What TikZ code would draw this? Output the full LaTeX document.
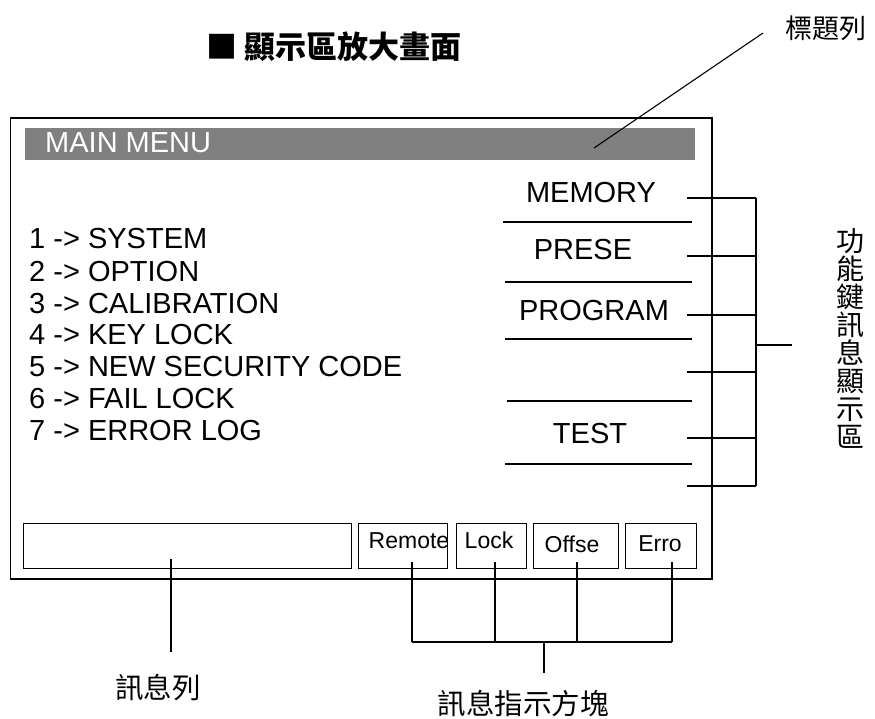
\documentclass[tikz,border=0pt]{standalone}
\usepackage{fontspec}
\setmainfont{Liberation Sans}
\newfontfamily\cjk{Noto Sans CJK TC}
\definecolor{bargray}{HTML}{808080}
\begin{document}
\begin{tikzpicture}[x=1pt,y=-1pt,
  menu/.style={anchor=base west, inner sep=0, font=\fontsize{29}{32}\selectfont},
  fk/.style={anchor=base, inner sep=0, font=\fontsize{29}{32}\selectfont},
  ind/.style={anchor=base, inner sep=0, font=\fontsize{23}{26}\selectfont},
  boxn/.style={draw, line width=1.4pt, inner sep=0, anchor=north west, minimum height=45pt},
  conn/.style={line width=1.1pt},
  sep/.style={line width=1.3pt},
  cjklab/.style={inner sep=0, font=\cjk\fontsize{28.5}{29}\selectfont}
]
\useasboundingbox (0,0) rectangle (875,719);

% title
\node[anchor=west, inner sep=0, font=\cjk\bfseries\fontsize{31}{31}\selectfont] (title) at (206,47) {■ 顯示區放大畫面};

% frame
\node[draw, line width=1.8pt, inner sep=0, anchor=north west, minimum width=701.5pt, minimum height=461pt] (frame) at (9.5,117) {};

% title bar
\node[fill=bargray, inner sep=0, anchor=north west, minimum width=670pt, minimum height=32pt] (bar) at (25,128) {};
\node[menu, text=white] (mainmenu) at (45,153) {MAIN MENU};

% menu items
\node[menu] (m1) at (29,249) {1 -> SYSTEM};
\node[menu] (m2) at (29,281) {2 -> OPTION};
\node[menu] (m3) at (29,313) {3 -> CALIBRATION};
\node[menu] (m4) at (29,344) {4 -> KEY LOCK};
\node[menu] (m5) at (29,376) {5 -> NEW SECURITY CODE};
\node[menu] (m6) at (29,408) {6 -> FAIL LOCK};
\node[menu] (m7) at (29,440) {7 -> ERROR LOG};

% function keys
\node[fk] (fmem) at (591,203) {MEMORY};
\node[fk] (fpre) at (583,260) {PRESE};
\node[fk] (fprog) at (594,320) {PROGRAM};
\node[fk] (ftest) at (590,443) {TEST};
\foreach \y/\xa in {222/503,282/505,339/505,401/507,464/505}
  \draw[sep] (\xa,\y) -- (692,\y);

% bracket for function keys
\coordinate (bt) at (756,198);
\coordinate (bb) at (756,486);
\coordinate (bm) at (756,345);
\coordinate (bo) at (792,345);
\foreach \y in {198,256,315,372,438,486}
  \draw[conn] (687,\y) -- (756,\y);
\draw[conn] (bt) -- (bb);
\draw[conn] (bm) -- (bo);
\node[inner sep=0, align=center, font=\cjk\fontsize{28}{28}\selectfont] (fklabel) at (850,338) {功\\能\\鍵\\訊\\息\\顯\\示\\區};

% title label
\node[inner sep=0, font=\cjk\fontsize{27}{27}\selectfont] (titlelabel) at (826,28) {標題列};
\coordinate (tla) at (763,33);
\coordinate (tlb) at (594,148);
\draw[conn] (tla) -- (tlb);

% bottom boxes
\node[boxn, minimum width=328pt] (msg) at (23,523) {};
\node[boxn, minimum width=89pt] (rem) at (358,523) {};
\node[boxn, minimum width=70pt] (lck) at (456,523) {};
\node[boxn, minimum width=85pt] (ofs) at (533,523) {};
\node[boxn, minimum width=71pt] (err) at (625,523) {};
\node[ind] (trem) at (409,548) {Remote};
\node[ind] (tlck) at (489,548) {Lock};
\node[ind] (tofs) at (572,552) {Offse};
\node[ind] (terr) at (660,551) {Erro};

% connectors below
\coordinate (ma) at (171,559);
\coordinate (mb) at (171,652);
\draw[conn] (ma) -- (mb);
\node[cjklab] (msglabel) at (158,688) {訊息列};

\coordinate (ra) at (412,562);
\coordinate (rb) at (412,642);
\coordinate (la) at (495,562);
\coordinate (lb) at (495,642);
\coordinate (oa) at (577,562);
\coordinate (ob) at (577,642);
\coordinate (ea) at (672,562);
\coordinate (eb) at (672,642);
\coordinate (ca) at (544,642);
\coordinate (cb) at (544,673);
\draw[conn] (ra) -- (rb);
\draw[conn] (la) -- (lb);
\draw[conn] (oa) -- (ob);
\draw[conn] (ea) -- (eb);
\draw[conn] (rb) -- (eb);
\draw[conn] (ca) -- (cb);
\node[cjklab] (indlabel) at (523,704) {訊息指示方塊};
\end{tikzpicture}
\end{document}
